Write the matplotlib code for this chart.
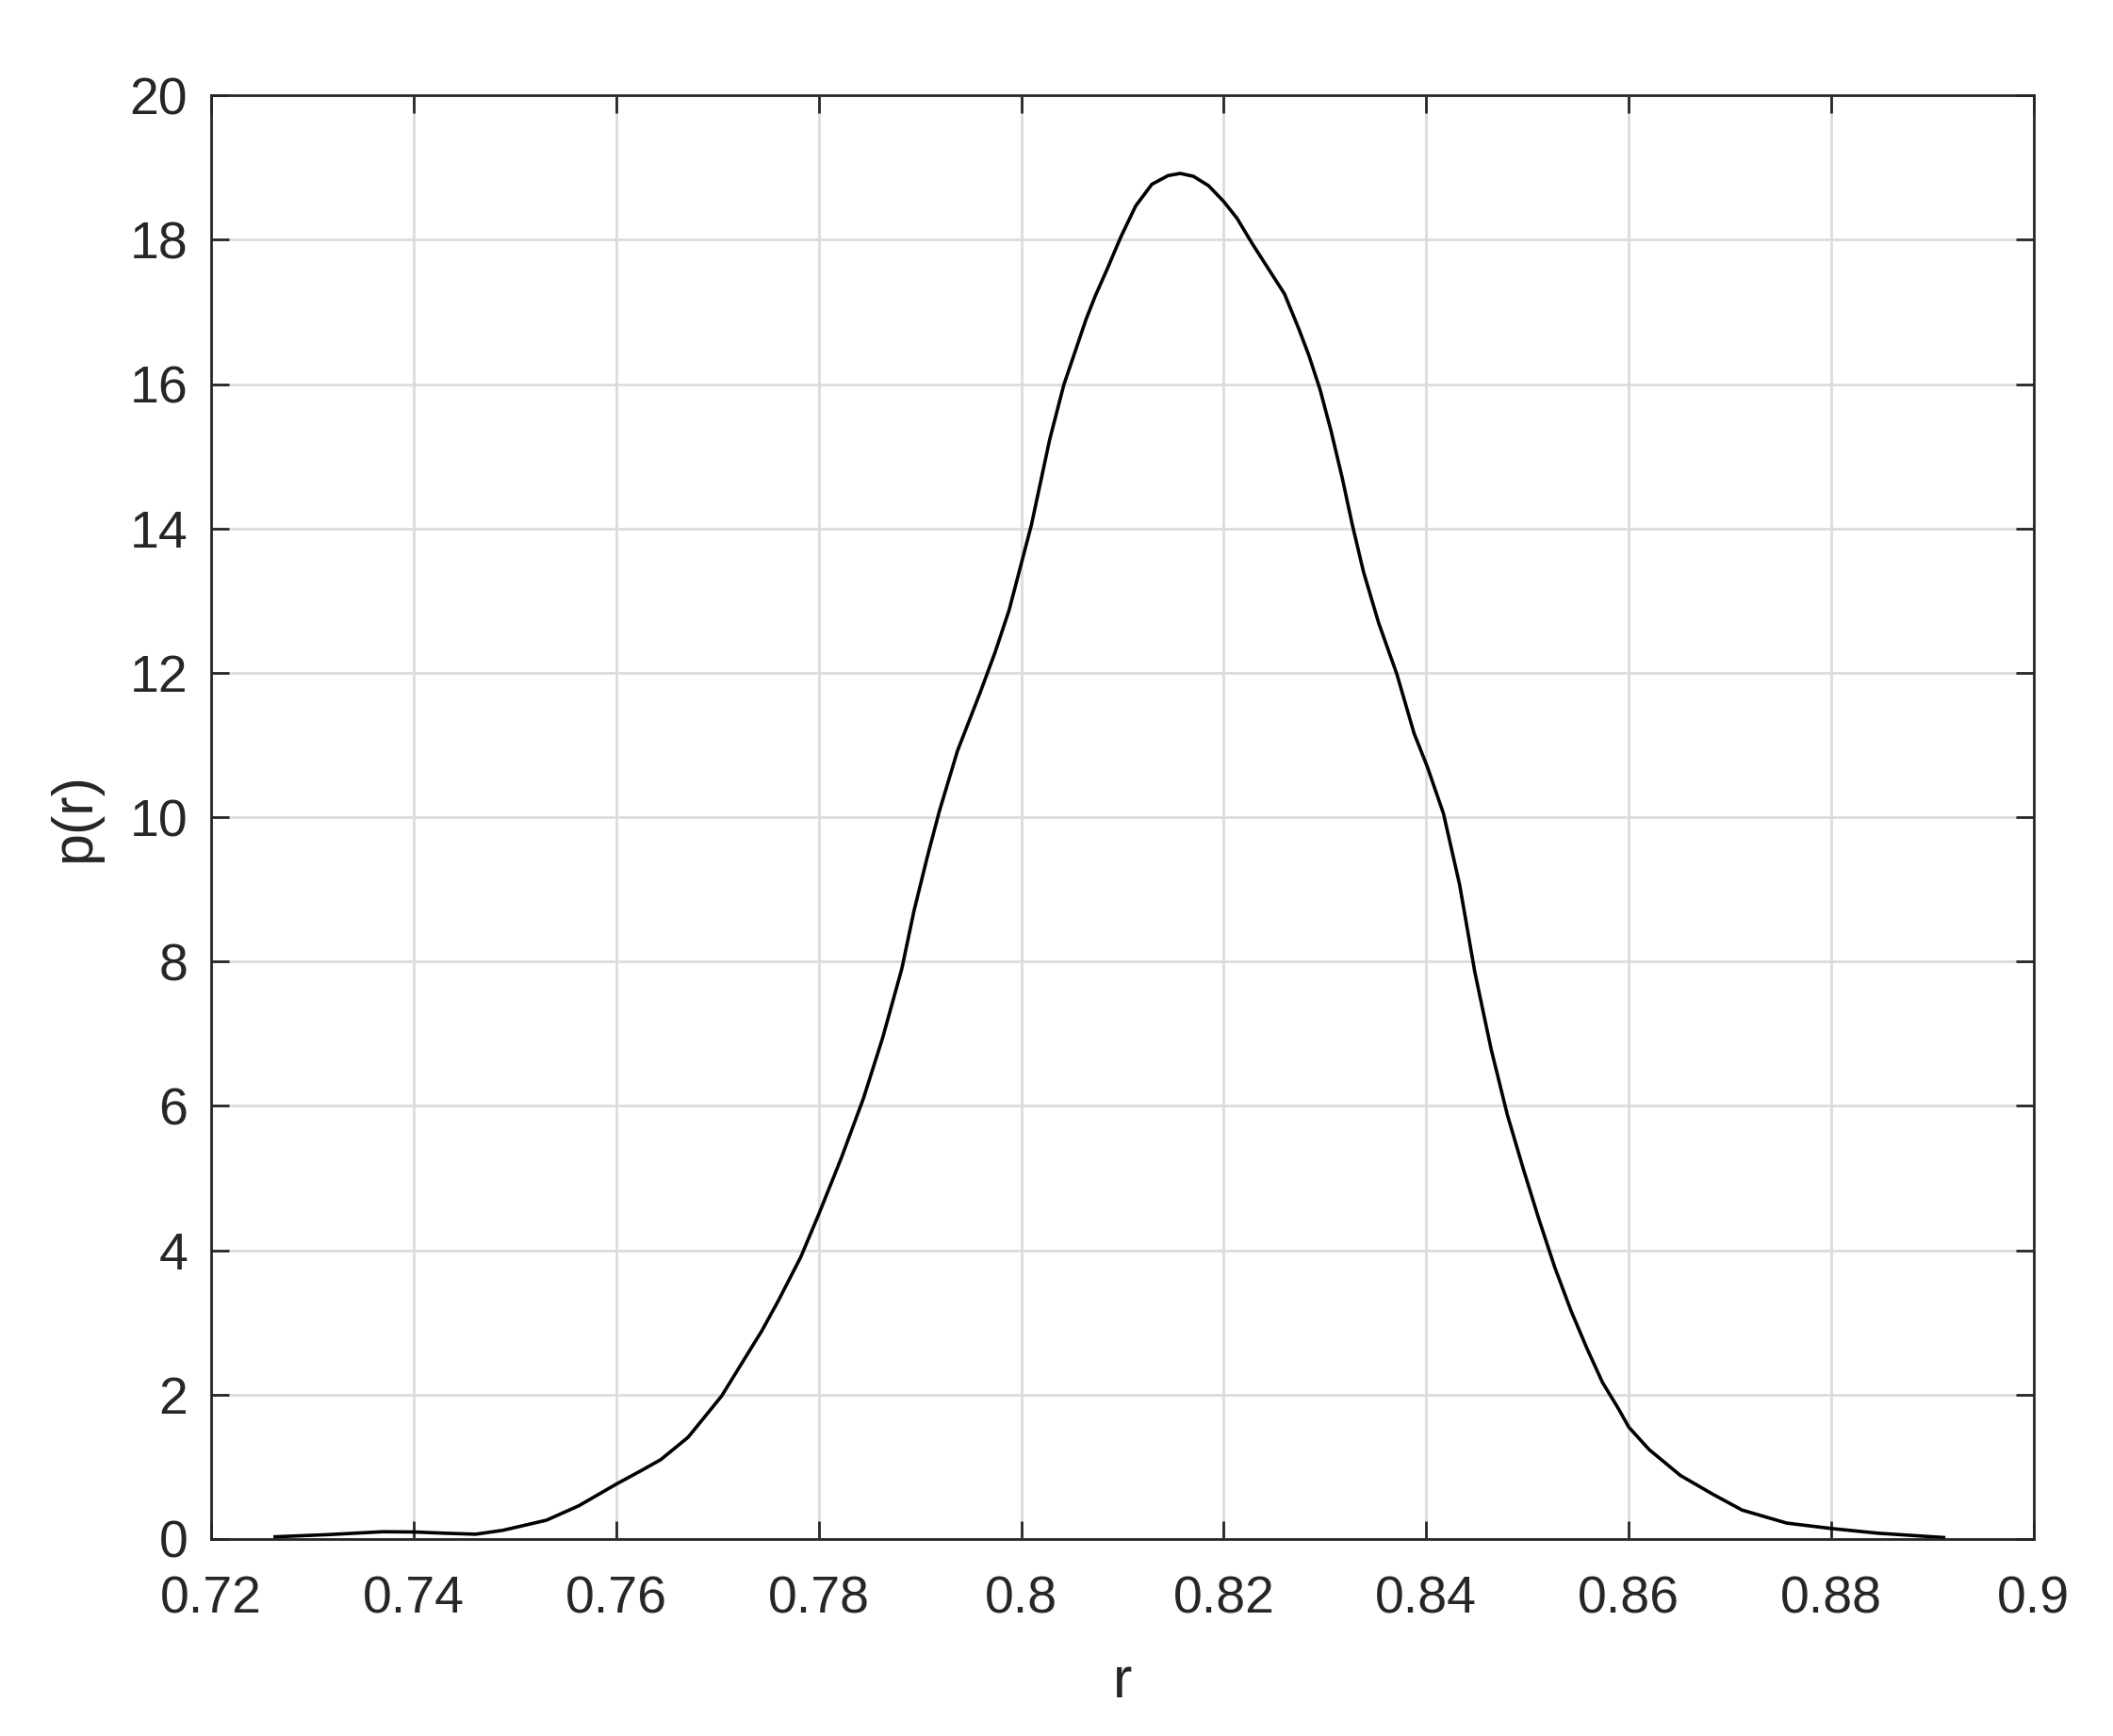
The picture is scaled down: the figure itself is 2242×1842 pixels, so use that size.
import matplotlib
matplotlib.use("Agg")
import matplotlib.pyplot as plt

# values
r = [0.7263, 0.7315, 0.7369, 0.7400, 0.7430, 0.7461, 0.7488, 0.7531, 0.7563,
     0.7600, 0.7625, 0.7644, 0.7671, 0.7704, 0.7744, 0.7760, 0.7782, 0.7800,
     0.7822, 0.7844, 0.7863, 0.7882, 0.7894, 0.7907, 0.7919, 0.7937, 0.7960,
     0.7974, 0.7988, 0.7999, 0.8010, 0.8028, 0.8042, 0.8064, 0.8073, 0.8085,
     0.8098, 0.8113, 0.8129, 0.8145, 0.8157, 0.8170, 0.8185, 0.8200, 0.8213,
     0.8228, 0.8244, 0.8260, 0.8274, 0.8284, 0.8295, 0.8306, 0.8317, 0.8327,
     0.8338, 0.8353, 0.8371, 0.8388, 0.8401, 0.8417, 0.8433, 0.8448, 0.8464,
     0.8480, 0.8496, 0.8511, 0.8527, 0.8543, 0.8559, 0.8574, 0.8590, 0.8600,
     0.8620, 0.8651, 0.8683, 0.8712, 0.8756, 0.8800, 0.8846, 0.8911]
p = [0.03, 0.06, 0.10, 0.097, 0.08, 0.066, 0.12, 0.26, 0.46,
     0.76, 0.95, 1.10, 1.41, 1.98, 2.89, 3.30, 3.90, 4.50,
     5.27, 6.10, 6.94, 7.90, 8.70, 9.44, 10.08, 10.92, 11.75,
     12.28, 12.87, 13.46, 14.05, 15.23, 15.99, 16.90, 17.22, 17.60,
     18.03, 18.47, 18.77, 18.89, 18.92, 18.88, 18.75, 18.53, 18.30,
     17.95, 17.60, 17.25, 16.77, 16.40, 15.93, 15.35, 14.70, 14.05,
     13.40, 12.69, 11.98, 11.16, 10.70, 10.05, 9.06, 7.85, 6.79,
     5.88, 5.12, 4.44, 3.76, 3.16, 2.63, 2.17, 1.80, 1.55,
     1.24, 0.88, 0.62, 0.40, 0.22, 0.145, 0.08, 0.02]

x_ticks = [0.72, 0.74, 0.76, 0.78, 0.8, 0.82, 0.84, 0.86, 0.88, 0.9]
x_tick_labels = ['0.72', '0.74', '0.76', '0.78', '0.8', '0.82', '0.84', '0.86', '0.88', '0.9']
y_ticks = [0, 2, 4, 6, 8, 10, 12, 14, 16, 18, 20]

plt.rcParams['font.family'] = ['Liberation Sans', 'DejaVu Sans']
dark = '#262626'

fig = plt.figure(figsize=(11.21, 9.21), dpi=200)
ax = fig.add_axes([0.1, 0.1135, 0.8625, 0.8315])

ax.plot(r, p, color='black', linewidth=1.3)

ax.set_xlim(0.72, 0.9)
ax.set_ylim(0, 20)
ax.set_xticks(x_ticks)
ax.set_xticklabels(x_tick_labels)
ax.set_yticks(y_ticks)

ax.grid(True, color='#dcdcdc', linewidth=1.0)
ax.set_axisbelow(True)
ax.tick_params(direction='in', length=7, width=1.0, colors=dark,
               labelsize=20, top=True, right=True)
ax.tick_params(axis='x', pad=14)
ax.tick_params(axis='y', pad=9)
for s in ax.spines.values():
    s.set_color(dark)
    s.set_linewidth(1.0)

ax.set_xlabel('r', fontsize=22, color=dark, labelpad=12)
ax.set_ylabel('p(r)', fontsize=22, color=dark, labelpad=10.5)

fig.savefig('out.png', dpi=200, facecolor='white')
